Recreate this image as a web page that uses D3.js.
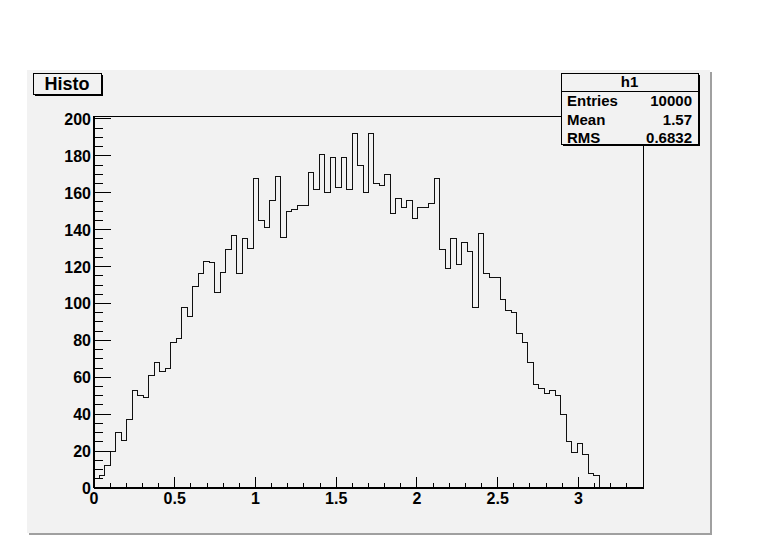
<!DOCTYPE html>
<html>
<head>
<meta charset="utf-8">
<script src="https://cdn.jsdelivr.net/npm/d3@7"></script>
<style>
  html, body { margin: 0; padding: 0; background: #ffffff; }
  svg { display: block; }
  text { font-family: "Liberation Sans", Arial, Helvetica, sans-serif; font-weight: bold; fill: #000; }
</style>
</head>
<body>
<script>
// ---- data ----
const histName = "h1";
const histTitle = "Histo";
const xMin = 0, xMax = 3.4, nBins = 100;
const counts = [
  5, 7, 12, 20, 30, 26, 37, 53, 50, 49,
  61, 68, 63, 65, 79, 81, 98, 93, 109, 116,
  123, 122, 106, 117, 129, 137, 116, 135, 130, 168,
  145, 141, 156, 169, 136, 150, 151, 153, 153, 171,
  162, 181, 160, 179, 163, 179, 162, 192, 175, 160,
  192, 165, 164, 170, 149, 157, 152, 156, 146, 152,
  152, 154, 168, 129, 119, 135, 121, 133, 128, 98,
  138, 116, 114, 114, 102, 96, 95, 84, 79, 68,
  56, 54, 51, 53, 50, 40, 25, 19, 24, 18,
  8, 7, 0, 0, 0, 0, 0, 0, 0, 0
];
const statLabels = ["Entries", "Mean", "RMS"];
const statValues = ["10000", "1.57", "0.6832"];
const xTicks = [0, 0.5, 1, 1.5, 2, 2.5, 3];
const yTicks = [0, 20, 40, 60, 80, 100, 120, 140, 160, 180, 200];
const yMax = 201.6;

// ---- layout ----
const W = 784, H = 554;
const padL = 27, padT = 70, padR = 710, padB = 533;
const fL = 94, fR = 643, fT = 116, fB = 488;
const bg = "#f2f2f2";

const svg = d3.select("body").append("svg").attr("width", W).attr("height", H);

// pad with shadow
svg.append("rect").attr("x", padL + 2).attr("y", padT + 2).attr("width", padR - padL).attr("height", padB - padT).attr("fill", "#a0a0a0");
svg.append("rect").attr("x", padL).attr("y", padT).attr("width", padR - padL).attr("height", padB - padT).attr("fill", bg);

const x = d3.scaleLinear().domain([xMin, xMax]).range([fL, fR]);
const y = d3.scaleLinear().domain([0, yMax]).range([fB, fT]);

// frame
svg.append("rect").attr("x", fL).attr("y", fT).attr("width", fR - fL).attr("height", fB - fT)
  .attr("fill", bg).attr("stroke", "#000").attr("stroke-width", 1).attr("shape-rendering", "crispEdges");

// histogram
const binW = (xMax - xMin) / nBins;
const pts = counts.map((c, i) => [xMin + i * binW, c]);
pts.push([xMax, counts[counts.length - 1]]);
const line = d3.line().x(d => x(d[0])).y(d => y(d[1])).curve(d3.curveStepAfter);
svg.append("path").attr("d", line(pts)).attr("fill", "none").attr("stroke", "#111").attr("stroke-width", 1).attr("shape-rendering", "crispEdges");

// x axis
const gx = svg.append("g").attr("transform", `translate(0,${fB})`);
const minorX = d3.range(0, 34).map(i => i / 10);
gx.selectAll("line.t").data(minorX).join("line")
  .attr("x1", d => x(d)).attr("x2", d => x(d))
  .attr("y1", 0).attr("y2", d => (Math.abs(d * 2 - Math.round(d * 2)) < 1e-6) ? -11 : -5.5)
  .attr("stroke", "#000").attr("shape-rendering", "crispEdges");
gx.append("line").attr("x1", fL).attr("x2", fR).attr("y1", 0).attr("y2", 0).attr("stroke", "#000").attr("stroke-width", 2);
gx.selectAll("text").data(xTicks).join("text")
  .attr("x", d => x(d)).attr("y", 16).attr("text-anchor", "middle").attr("font-size", 16)
  .text(d => d3.format("~g")(d));

// y axis
const gy = svg.append("g").attr("transform", `translate(${fL},0)`);
const minorY = d3.range(0, 201, 5);
gy.selectAll("line.t").data(minorY).join("line")
  .attr("x1", 0).attr("x2", d => d % 20 === 0 ? 17 : 8.5)
  .attr("y1", d => y(d)).attr("y2", d => y(d))
  .attr("stroke", "#000").attr("shape-rendering", "crispEdges");
gy.append("line").attr("x1", 0).attr("x2", 0).attr("y1", fT).attr("y2", fB).attr("stroke", "#000").attr("stroke-width", 2);
gy.selectAll("text").data(yTicks).join("text")
  .attr("x", -3).attr("y", d => y(d) + 6).attr("text-anchor", "end").attr("font-size", 16)
  .text(d => d);

// title box
const tb = { x: 33, y: 73, w: 68, h: 21 };
svg.append("rect").attr("x", tb.x + 2).attr("y", tb.y + 2).attr("width", tb.w).attr("height", tb.h).attr("fill", "#000");
svg.append("rect").attr("x", tb.x).attr("y", tb.y).attr("width", tb.w).attr("height", tb.h).attr("fill", bg).attr("stroke", "#000").attr("shape-rendering", "crispEdges");
svg.append("text").attr("x", tb.x + tb.w / 2).attr("y", tb.y + 17).attr("text-anchor", "middle").attr("font-size", 18).text(histTitle);

// stats box
const sb = { x: 561, y: 73, w: 137, h: 71 };
svg.append("rect").attr("x", sb.x + 2).attr("y", sb.y + 2).attr("width", sb.w).attr("height", sb.h).attr("fill", "#000");
svg.append("rect").attr("x", sb.x).attr("y", sb.y).attr("width", sb.w).attr("height", sb.h).attr("fill", bg).attr("stroke", "#000").attr("shape-rendering", "crispEdges");
svg.append("line").attr("x1", sb.x).attr("x2", sb.x + sb.w).attr("y1", sb.y + 18).attr("y2", sb.y + 18).attr("stroke", "#000").attr("shape-rendering", "crispEdges");
svg.append("text").attr("x", sb.x + sb.w / 2).attr("y", sb.y + 14).attr("text-anchor", "middle").attr("font-size", 15).text(histName);
statLabels.forEach((l, i) => {
  svg.append("text").attr("x", sb.x + 6).attr("y", sb.y + 33 + i * 18.5).attr("font-size", 15).text(l);
  svg.append("text").attr("x", sb.x + sb.w - 6).attr("y", sb.y + 33 + i * 18.5).attr("text-anchor", "end").attr("font-size", 15).text(statValues[i]);
});
</script>
</body>
</html>
